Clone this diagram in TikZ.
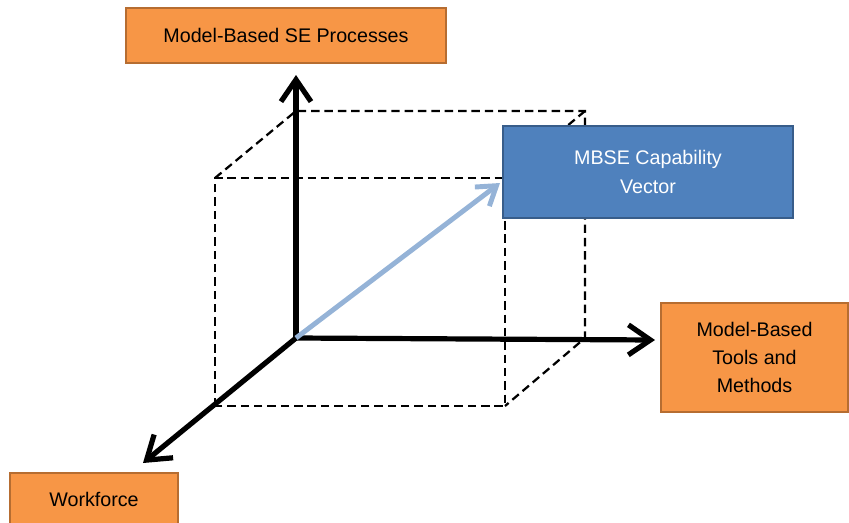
\documentclass[tikz,border=0pt]{standalone}
\usepackage{fontspec}
\setmainfont{Liberation Sans}
\usepackage{xcolor}
\usetikzlibrary{arrows.meta, positioning, calc, shadows}

\definecolor{boxorange}{HTML}{F79646}
\definecolor{orangeline}{HTML}{B66D31}
\definecolor{boxblue}{HTML}{4F81BD}
\definecolor{blueline}{HTML}{385D8A}
\definecolor{vecblue}{HTML}{95B3D7}

\tikzset{
  dimbox/.style={draw=orangeline, fill=boxorange, line width=1.2pt, inner sep=0pt,
    align=center, font=\fontsize{14}{20}\selectfont,
    drop shadow={opacity=0.25, shadow xshift=0.6pt, shadow yshift=-1pt}},
  vecbox/.style={draw=blueline, fill=boxblue, line width=1.2pt, inner sep=0pt,
    align=center, text=white, font=\fontsize{14}{20}\selectfont,
    drop shadow={opacity=0.25, shadow xshift=0.6pt, shadow yshift=-1pt}},
  axis/.style={line width=3.7pt, -{Straight Barb[length=5.5mm, width=7.5mm, line width=3.7pt]}},
  cube/.style={line width=1.6pt, dash pattern=on 6pt off 3.5pt}
}

\begin{document}
\begin{tikzpicture}[x=0.025cm, y=-0.025cm]
    \useasboundingbox (0,0) rectangle (849,522);

    % cube corners
    \coordinate (o) at (296,338);
    \coordinate (bt) at (296,111);
    \coordinate (btr) at (585,111);
    \coordinate (bbr) at (585,338);
    \coordinate (ft) at (215,178);
    \coordinate (ftr) at (505,178);
    \coordinate (fb) at (215,406);
    \coordinate (fbr) at (505,406);

    \draw[cube] (fb) -- (ft) -- (ftr) -- (fbr) -- cycle;
    \draw[cube] (ft) -- (bt) -- (btr) -- (bbr) -- (fbr);
    \draw[cube] (btr) -- (ftr);

    % boxes
    \node[dimbox, minimum width=8cm, minimum height=1.375cm] (proc) at (286,35.5) {Model-Based SE Processes};
    \node[dimbox, minimum width=4.675cm, minimum height=2.725cm] (tools) at (754.5,357.5) {Model-Based\\Tools and\\Methods};
    \node[dimbox, minimum width=4.2cm, minimum height=1.3cm] (work) at (94,499) {Workforce};

    \coordinate (uptip) at (296,75);
    \coordinate (righttip) at (655,340);
    \coordinate (downtip) at (143,463);
    \coordinate (vectip) at (500,183);

    \draw[axis] (o) -- (uptip);
    \draw[axis] (o) -- (righttip);
    \draw[axis] (o) -- (downtip);
    \draw[vecblue, line width=3.5pt, -{Straight Barb[length=4.5mm, width=6mm, line width=3.5pt]}] (o) -- (vectip);

    \node[vecbox, minimum width=7.25cm, minimum height=2.3cm] (vec) at (648,172) {MBSE Capability\\Vector};
  \end{tikzpicture}
\end{document}
